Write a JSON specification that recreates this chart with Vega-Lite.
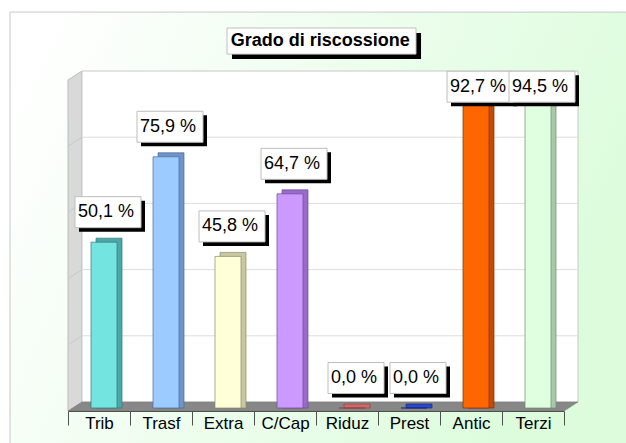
{
  "$schema": "https://vega.github.io/schema/vega-lite/v6.json",
  "width": 510,
  "height": 340,
  "autosize": {"type": "none"},
  "padding": {"left": 68, "top": 71, "right": 48, "bottom": 32},
  "background": "white",
  "config": {
    "view": {"stroke": null},
    "axis": {"grid": false}
  },
  "layer": [
    {
      "data": {"values": [{}]},
      "layer": [
        {
          "mark": {"type": "rect", "stroke": "#c8c8c8", "strokeWidth": 1,
            "fill": {"gradient": "linear", "x1": 0.05, "y1": 0, "x2": 1, "y2": 0.3,
              "stops": [{"offset": 0, "color": "#ffffff"}, {"offset": 1, "color": "#dcfcdc"}]}},
          "encoding": {
            "x": {"datum": -0.935, "type": "quantitative", "scale": {"domain": [0, 8.226], "nice": false, "zero": false}, "axis": null},
            "x2": {"datum": 9.4},
            "y": {"datum": 117.8, "type": "quantitative", "scale": {"domain": [-2.72, 100], "nice": false, "zero": false}, "axis": null},
            "y2": {"datum": -17}
          }
        },
        {
          "mark": {"type": "rect", "fill": "#000000"},
          "encoding": {
            "x": {"datum": 2.645, "type": "quantitative", "scale": {"domain": [0, 8.226], "nice": false, "zero": false}, "axis": null},
            "x2": {"datum": 5.694},
            "y": {"datum": 111.48, "type": "quantitative", "scale": {"domain": [-2.72, 100], "nice": false, "zero": false}, "axis": null},
            "y2": {"datum": 103.63}
          }
        },
        {
          "mark": {"type": "rect", "fill": "#ffffff", "stroke": "#c0c0c0", "strokeWidth": 1},
          "encoding": {
            "x": {"datum": 2.565, "type": "quantitative", "scale": {"domain": [0, 8.226], "nice": false, "zero": false}, "axis": null},
            "x2": {"datum": 5.613},
            "y": {"datum": 113.0, "type": "quantitative", "scale": {"domain": [-2.72, 100], "nice": false, "zero": false}, "axis": null},
            "y2": {"datum": 105.1}
          }
        },
        {
          "mark": {"type": "text", "font": "Liberation Sans", "fontWeight": "bold", "fontSize": 18, "color": "#000000", "align": "center", "baseline": "middle"},
          "encoding": {
            "x": {"datum": 4.07, "type": "quantitative", "scale": {"domain": [0, 8.226], "nice": false, "zero": false}, "axis": null},
            "y": {"datum": 109.1, "type": "quantitative", "scale": {"domain": [-2.72, 100], "nice": false, "zero": false}, "axis": null},
            "text": {"value": "Grado di riscossione"}
          }
        },
        {
          "data": {"values": [{"x": 0, "lo": -2.72, "hi": 97.28}, {"x": 0.226, "lo": 0, "hi": 100}]},
          "mark": {"type": "area", "fill": "#d9d9d9", "stroke": "#bdbdbd", "strokeWidth": 1},
          "encoding": {
            "x": {"field": "x", "type": "quantitative", "scale": {"domain": [0, 8.226], "nice": false, "zero": false}, "axis": null},
            "y": {"field": "hi", "type": "quantitative", "scale": {"domain": [-2.72, 100], "nice": false, "zero": false}, "axis": null},
            "y2": {"field": "lo"}
          }
        },
        {
          "data": {"values": [{"g": 20}, {"g": 40}, {"g": 60}, {"g": 80}]},
          "mark": {"type": "rule", "stroke": "#c8c8c8", "strokeWidth": 1, "yOffset": 9},
          "encoding": {
            "x": {"datum": 0, "type": "quantitative", "scale": {"domain": [0, 8.226], "nice": false, "zero": false}, "axis": null},
            "x2": {"datum": 0.226},
            "y": {"field": "g", "type": "quantitative", "scale": {"domain": [-2.72, 100], "nice": false, "zero": false}, "axis": null},
            "y2": {"field": "g"}
          }
        },
        {
          "mark": {"type": "rect", "fill": "#ffffff", "stroke": "#c8c8c8", "strokeWidth": 1},
          "encoding": {
            "x": {"datum": 0.226, "type": "quantitative", "scale": {"domain": [0, 8.226], "nice": false, "zero": false}, "axis": null},
            "x2": {"datum": 8.226},
            "y": {"datum": 100, "type": "quantitative", "scale": {"domain": [-2.72, 100], "nice": false, "zero": false}, "axis": null},
            "y2": {"datum": 0}
          }
        },
        {
          "data": {"values": [{"g": 20}, {"g": 40}, {"g": 60}, {"g": 80}]},
          "mark": {"type": "rule", "stroke": "#dddddd", "strokeWidth": 1},
          "encoding": {
            "x": {"datum": 0.226, "type": "quantitative", "scale": {"domain": [0, 8.226], "nice": false, "zero": false}, "axis": null},
            "x2": {"datum": 8.226},
            "y": {"field": "g", "type": "quantitative", "scale": {"domain": [-2.72, 100], "nice": false, "zero": false}, "axis": null}
          }
        },
        {
          "data": {"values": [{"x": 0, "lo": -2.72, "hi": -2.72}, {"x": 0.226, "lo": -2.72, "hi": 0}, {"x": 8, "lo": -2.72, "hi": 0}, {"x": 8.226, "lo": 0, "hi": 0}]},
          "mark": {"type": "area", "fill": "#878787", "stroke": "#7a7a7a", "strokeWidth": 0.5},
          "encoding": {
            "x": {"field": "x", "type": "quantitative", "scale": {"domain": [0, 8.226], "nice": false, "zero": false}, "axis": null},
            "y": {"field": "hi", "type": "quantitative", "scale": {"domain": [-2.72, 100], "nice": false, "zero": false}, "axis": null},
            "y2": {"field": "lo"}
          }
        }
      ]
    },
    {
      "data": {"values": [
        {"cat": "Trib", "value": 50.1, "label": "50,1 %"},
        {"cat": "Trasf", "value": 75.9, "label": "75,9 %"},
        {"cat": "Extra", "value": 45.8, "label": "45,8 %"},
        {"cat": "C/Cap", "value": 64.7, "label": "64,7 %"},
        {"cat": "Riduz", "value": 0.0, "label": "0,0 %"},
        {"cat": "Prest", "value": 0.0, "label": "0,0 %"},
        {"cat": "Antic", "value": 92.7, "label": "92,7 %"},
        {"cat": "Terzi", "value": 94.5, "label": "94,5 %"}
      ]},
      "transform": [{"calculate": "min(datum.value, 88)", "as": "labelY"}],
      "encoding": {
        "x": {
          "field": "cat", "type": "nominal", "sort": null,
          "scale": {"range": [0, 496], "paddingInner": 0, "paddingOuter": 0},
          "axis": {
            "title": null, "orient": "bottom", "labelAngle": 0, "labelFont": "Liberation Sans", "labelFontSize": 17,
            "labelColor": "#000000", "domainColor": "#505050", "tickColor": "#505050", "tickSize": 14,
            "tickBand": "extent", "labelPadding": -10, "zindex": 1, "grid": false
          }
        }
      },
      "layer": [
        {
          "mark": {"type": "bar", "width": 26, "xOffset": 10, "yOffset": 2, "y2Offset": 6, "strokeWidth": 0.7},
          "encoding": {
            "y": {"field": "value", "type": "quantitative", "scale": {"domain": [-2.72, 100], "nice": false, "zero": false}, "axis": null},
            "y2": {"datum": 0},
            "fill": {"field": "cat", "type": "nominal", "legend": null,
              "scale": {"domain": ["Trib", "Trasf", "Extra", "C/Cap", "Riduz", "Prest", "Antic", "Terzi"],
                "range": ["#4aa8a8", "#6f94c8", "#c8c8a0", "#9a6ac8", "#d06868", "#2a48c8", "#c44c00", "#a8c8a8"]}},
            "stroke": {"field": "cat", "type": "nominal", "legend": null,
              "scale": {"domain": ["Trib", "Trasf", "Extra", "C/Cap", "Riduz", "Prest", "Antic", "Terzi"],
                "range": ["#2f7878", "#4a6a98", "#8a8a6a", "#6a4a98", "#904040", "#182c80", "#803000", "#708a70"]}}
          }
        },
        {
          "mark": {"type": "bar", "width": 26, "xOffset": 5, "yOffset": 6, "y2Offset": 6, "strokeWidth": 0.7},
          "encoding": {
            "y": {"field": "value", "type": "quantitative", "scale": {"domain": [-2.72, 100], "nice": false, "zero": false}, "axis": null},
            "y2": {"datum": 0},
            "fill": {"field": "cat", "type": "nominal", "legend": null,
              "scale": {"domain": ["Trib", "Trasf", "Extra", "C/Cap", "Riduz", "Prest", "Antic", "Terzi"],
                "range": ["#74e4e0", "#9ccbff", "#ffffd8", "#cc99ff", "#d06868", "#2a48c8", "#ff6600", "#e0ffe0"]}},
            "stroke": {"field": "cat", "type": "nominal", "legend": null,
              "scale": {"domain": ["Trib", "Trasf", "Extra", "C/Cap", "Riduz", "Prest", "Antic", "Terzi"],
                "range": ["#2f7878", "#4a6a98", "#8a8a6a", "#6a4a98", "#904040", "#182c80", "#803000", "#708a70"]}}
          }
        },
        {
          "transform": [{"filter": "datum.value > 0"}],
          "mark": {"type": "bar", "width": 66, "xOffset": 13, "yOffset": -35.5, "y2Offset": -4.5, "fill": "#000000"},
          "encoding": {
            "y": {"field": "labelY", "type": "quantitative", "scale": {"domain": [-2.72, 100], "nice": false, "zero": false}, "axis": null},
            "y2": {"field": "labelY"}
          }
        },
        {
          "transform": [{"filter": "datum.value <= 0"}],
          "mark": {"type": "bar", "width": 56, "xOffset": 13, "yOffset": -35.5, "y2Offset": -4.5, "fill": "#000000"},
          "encoding": {
            "y": {"field": "labelY", "type": "quantitative", "scale": {"domain": [-2.72, 100], "nice": false, "zero": false}, "axis": null},
            "y2": {"field": "labelY"}
          }
        },
        {
          "transform": [{"filter": "datum.value > 0"}],
          "mark": {"type": "bar", "width": 66, "xOffset": 9, "yOffset": -39.5, "y2Offset": -8.5, "fill": "#ffffff", "stroke": "#bdbdbd", "strokeWidth": 1},
          "encoding": {
            "y": {"field": "labelY", "type": "quantitative", "scale": {"domain": [-2.72, 100], "nice": false, "zero": false}, "axis": null},
            "y2": {"field": "labelY"}
          }
        },
        {
          "transform": [{"filter": "datum.value <= 0"}],
          "mark": {"type": "bar", "width": 56, "xOffset": 9, "yOffset": -39.5, "y2Offset": -8.5, "fill": "#ffffff", "stroke": "#bdbdbd", "strokeWidth": 1},
          "encoding": {
            "y": {"field": "labelY", "type": "quantitative", "scale": {"domain": [-2.72, 100], "nice": false, "zero": false}, "axis": null},
            "y2": {"field": "labelY"}
          }
        },
        {
          "mark": {"type": "text", "font": "Liberation Sans", "fontSize": 18, "color": "#000000", "align": "center", "baseline": "middle", "xOffset": 7, "yOffset": -24},
          "encoding": {
            "y": {"field": "labelY", "type": "quantitative", "scale": {"domain": [-2.72, 100], "nice": false, "zero": false}, "axis": null},
            "text": {"field": "label"}
          }
        }
      ],
      "resolve": {"scale": {"fill": "independent", "stroke": "independent"}}
    }
  ],
  "resolve": {"scale": {"x": "independent", "fill": "independent", "stroke": "independent"}}
}
